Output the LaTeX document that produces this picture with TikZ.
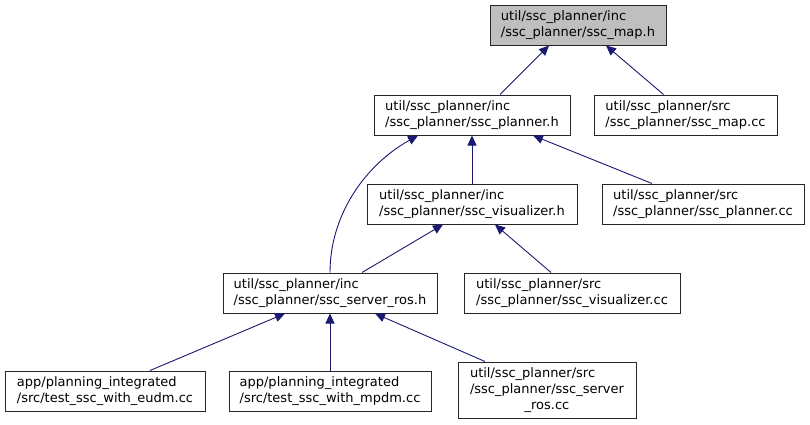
\documentclass[tikz,border=0pt]{standalone}
\usepackage{fontspec}
\setmainfont{DejaVu Sans}
\usetikzlibrary{arrows.meta}
\definecolor{edgeblue}{HTML}{191970}
\definecolor{rootgray}{HTML}{BFBFBF}
\begin{document}
\begin{tikzpicture}[x=1pt,y=-1pt,
  box/.style={draw=black!85, line width=1pt, fill=white, inner sep=0pt, minimum height=40pt, font=\fontsize{13}{16}\selectfont},
  edge/.style={draw=edgeblue, line width=0.9pt, -{Triangle[length=10pt,width=9pt]}}]
\useasboundingbox (0,0) rectangle (810,424);
\node[box, fill=rootgray, minimum width=176pt] (mh) at (578,25) {\begin{tabular}{@{}l@{}}util/ssc\_planner/inc\\/ssc\_planner/ssc\_map.h\end{tabular}};
\node[box, minimum width=196pt] (pl) at (472,115) {\begin{tabular}{@{}l@{}}util/ssc\_planner/inc\\/ssc\_planner/ssc\_planner.h\end{tabular}};
\node[box, minimum width=183pt] (mc) at (685.5,115) {\begin{tabular}{@{}l@{}}util/ssc\_planner/src\\/ssc\_planner/ssc\_map.cc\end{tabular}};
\node[box, minimum width=210pt] (vz) at (472,204) {\begin{tabular}{@{}l@{}}util/ssc\_planner/inc\\/ssc\_planner/ssc\_visualizer.h\end{tabular}};
\node[box, minimum width=202pt] (pc) at (703,204) {\begin{tabular}{@{}l@{}}util/ssc\_planner/src\\/ssc\_planner/ssc\_planner.cc\end{tabular}};
\node[box, minimum width=214pt] (sr) at (330,293) {\begin{tabular}{@{}l@{}}util/ssc\_planner/inc\\/ssc\_planner/ssc\_server\_ros.h\end{tabular}};
\node[box, minimum width=216pt] (vc) at (572,293) {\begin{tabular}{@{}l@{}}util/ssc\_planner/src\\/ssc\_planner/ssc\_visualizer.cc\end{tabular}};
\node[box, minimum width=200pt] (eu) at (105,391) {\begin{tabular}{@{}l@{}}app/planning\_integrated\\/src/test\_ssc\_with\_eudm.cc\end{tabular}};
\node[box, minimum width=202pt] (mp) at (330,391) {\begin{tabular}{@{}l@{}}app/planning\_integrated\\/src/test\_ssc\_with\_mpdm.cc\end{tabular}};
\node[box, minimum width=178pt, minimum height=56pt] (rc) at (547,390) {\begin{tabular}{@{}l@{}}util/ssc\_planner/src\\/ssc\_planner/ssc\_server\\\multicolumn{1}{c}{\_ros.cc}\end{tabular}};
\draw[edge] ([xshift=28pt]pl.north) -- ([xshift=-29pt]mh.south);
\draw[edge] ([xshift=-22pt]mc.north) -- ([xshift=28pt]mh.south);
\draw[edge] (vz.north) -- (pl.south);
\draw[edge] ([xshift=-51pt]pc.north) -- ([xshift=61pt]pl.south);
\draw[edge] (sr.north) .. controls (330,215) and (365,165) .. ([xshift=-54pt]pl.south);
\draw[edge] ([xshift=32pt]sr.north) -- ([xshift=-29pt]vz.south);
\draw[edge] ([xshift=-21pt]vc.north) -- ([xshift=23pt]vz.south);
\draw[edge] ([xshift=45pt]eu.north) -- ([xshift=-45pt]sr.south);
\draw[edge] (mp.north) -- (sr.south);
\draw[edge] ([xshift=-62pt]rc.north) -- ([xshift=45pt]sr.south);
\end{tikzpicture}
\end{document}
